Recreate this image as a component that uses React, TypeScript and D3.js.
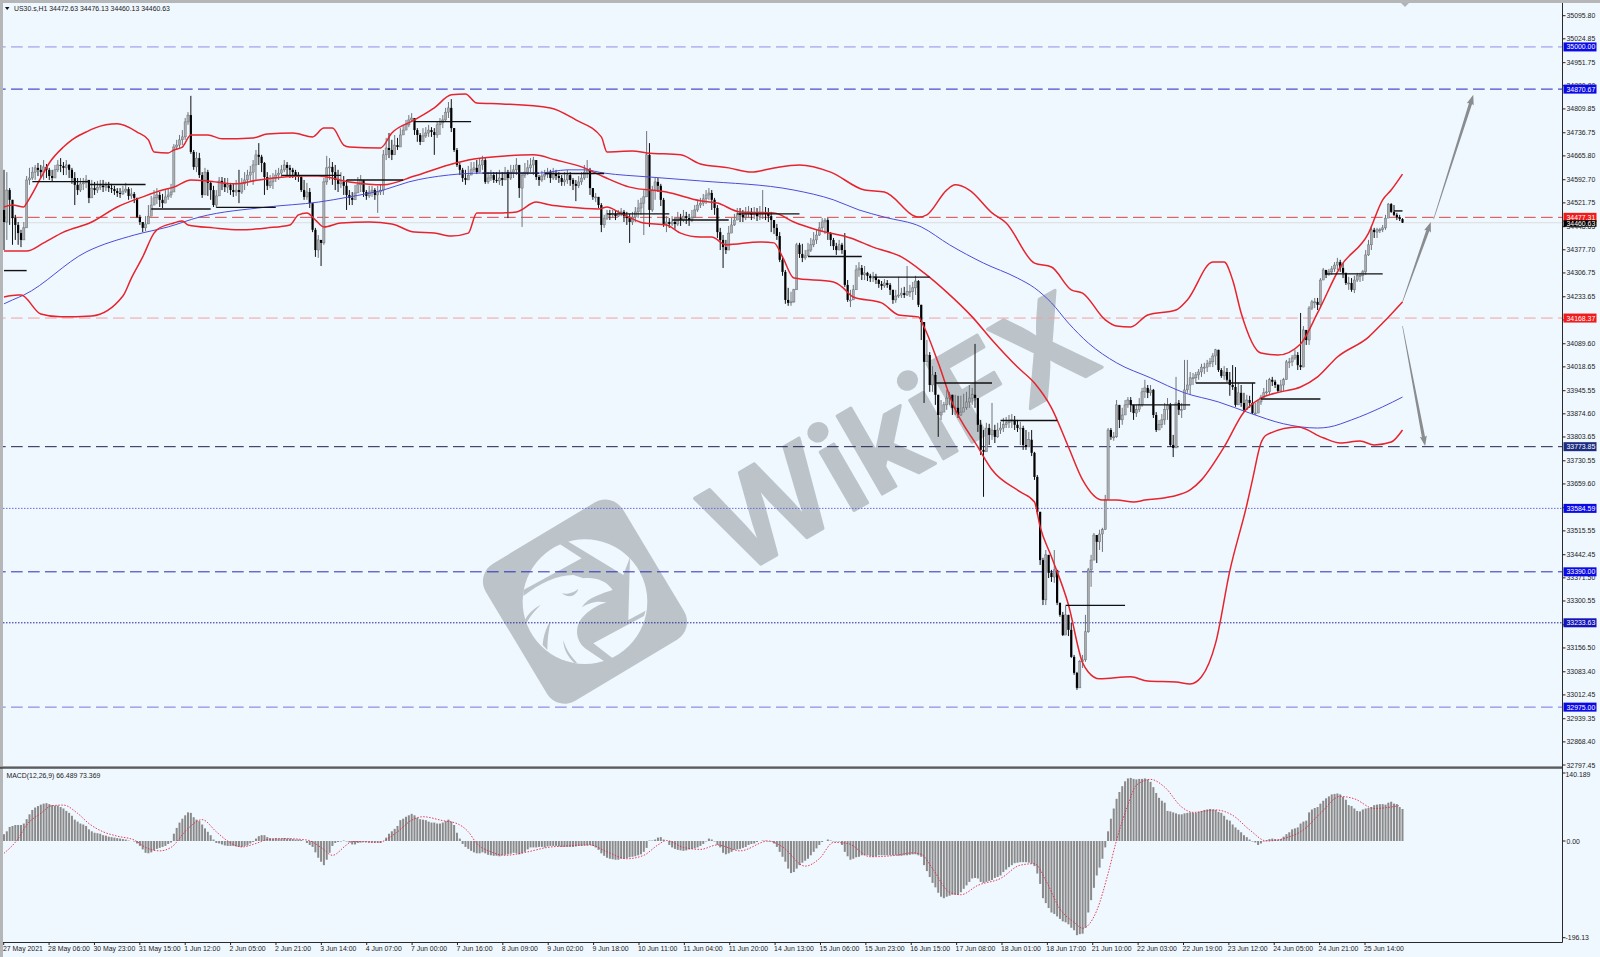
import React from "react";
import * as d3 from "d3";

// ---- candles (H1 bars) ----
const closes = [
34463,34561,34531,34475,34454,34429,34408,34445,34592,34598,34616,34629,34623,34616,34632,34623,
34604,34598,34623,34638,34635,34629,34638,34623,34598,34577,34561,34580,34583,34592,34537,34567,
34561,34570,34574,34570,34574,34567,34564,34558,34552,34549,34558,34564,34543,34549,34537,34478,
34463,34445,34457,34481,34515,34537,34546,34531,34521,34540,34546,34555,34693,34699,34715,34724,
34770,34791,34678,34632,34659,34607,34546,34616,34583,34561,34515,34543,34589,34583,34570,34577,
34561,34555,34561,34555,34580,34592,34607,34616,34638,34669,34663,34644,34601,34574,34586,34598,
34607,34613,34623,34638,34629,34623,34616,34607,34601,34561,34540,34555,34521,34439,34377,34408,
34399,34586,34629,34632,34616,34592,34580,34586,34574,34546,34537,34531,34552,34577,34592,34555,
34543,34555,34561,34546,34555,34561,34669,34690,34684,34669,34699,34693,34730,34745,34761,34776,
34782,34745,34730,34709,34727,34736,34745,34739,34730,34761,34767,34776,34800,34813,34751,34684,
34638,34623,34598,34592,34607,34623,34629,34616,34638,34653,34586,34598,34607,34592,34589,34598,
34592,34616,34598,34616,34623,34638,34567,34607,34616,34629,34638,34653,34601,34592,34604,34610,
34616,34598,34613,34604,34598,34586,34592,34607,34592,34580,34574,34586,34598,34616,34623,34567,
34540,34540,34515,34454,34475,34488,34485,34488,34481,34491,34494,34481,34475,34463,34478,34494,
34506,34521,34540,34669,34500,34561,34586,34574,34531,34457,34463,34457,34463,34457,34475,34469,
34481,34475,34469,34478,34500,34515,34521,34534,34546,34552,34531,34506,34432,34408,34386,34377,
34429,34454,34469,34488,34485,34478,34488,34494,34485,34491,34481,34488,34491,34488,34481,34469,
34445,34420,34347,34310,34224,34215,34218,34255,34393,34365,34353,34359,34377,34393,34408,34423,
34445,34463,34469,34429,34408,34389,34377,34393,34377,34270,34224,34224,34255,34316,34322,34301,
34307,34298,34291,34295,34285,34273,34267,34276,34270,34255,34224,34236,34239,34245,34239,34249,
34249,34261,34282,34209,34156,34034,34055,33963,33994,33933,33871,33880,33902,33923,33933,33893,
33893,33871,33880,33893,33911,33923,33933,33923,33841,33764,33758,33831,33810,33825,33804,33825,
33831,33841,33847,33853,33856,33841,33831,33831,33779,33773,33795,33755,33681,33574,33426,33304,
33442,33387,33374,33396,33295,33258,33196,33258,33212,33129,33080,33034,33114,33120,33206,33396,
33426,33503,33482,33506,33519,33611,33825,33804,33804,33902,33856,33871,33902,33917,33902,33877,
33887,33902,33942,33954,33939,33948,33871,33825,33841,33856,33887,33902,33779,33770,33908,33887,
33887,33948,33963,33985,33985,33994,34003,34018,34018,34028,34034,34052,34071,34009,33991,34003,
33979,33963,33957,33902,33939,33908,33887,33917,33908,33877,33877,33911,33926,33939,33942,33979,
33973,33963,33945,33963,33979,34034,34034,34046,34055,34024,34018,34132,34101,34199,34218,34218,
34209,34285,34316,34301,34310,34319,34331,34340,34322,34307,34276,34276,34255,34285,34298,34298,
34310,34362,34393,34439,34432,34439,34439,34445,34475,34518,34494,34485,34478,34472,34461];

const highs = [
34623,34616,34567,34531,34485,34463,34439,34463,34604,34629,34632,34638,34644,34638,34653,34641,
34629,34623,34638,34653,34659,34647,34653,34641,34629,34616,34598,34598,34598,34607,34592,34592,
34586,34589,34592,34592,34586,34586,34580,34574,34567,34567,34574,34583,34570,34567,34555,34537,
34485,34463,34481,34515,34543,34561,34567,34555,34549,34561,34567,34580,34702,34715,34730,34745,
34782,34800,34850,34684,34678,34675,34616,34629,34623,34586,34574,34561,34601,34601,34598,34598,
34583,34580,34592,34623,34598,34616,34623,34635,34653,34684,34705,34669,34647,34616,34607,34613,
34623,34629,34638,34653,34647,34638,34629,34623,34616,34604,34592,34583,34567,34515,34445,34423,
34408,34598,34666,34659,34647,34638,34623,34616,34604,34592,34561,34555,34577,34601,34607,34586,
34561,34574,34574,34567,34574,34580,34684,34721,34736,34715,34730,34721,34751,34761,34776,34791,
34797,34782,34751,34736,34751,34754,34761,34754,34751,34770,34782,34791,34813,34831,34840,34751,
34690,34644,34629,34623,34635,34647,34647,34653,34659,34666,34659,34616,34623,34616,34616,34623,
34616,34632,34623,34638,34638,34659,34638,34616,34644,34653,34659,34663,34653,34607,34620,34623,
34629,34623,34629,34623,34616,34607,34616,34623,34616,34598,34592,34604,34616,34638,34653,34629,
34567,34552,34540,34521,34485,34500,34500,34500,34497,34500,34506,34500,34494,34488,34494,34509,
34531,34537,34561,34742,34705,34574,34598,34598,34580,34537,34481,34475,34481,34475,34494,34488,
34500,34494,34488,34500,34515,34531,34537,34549,34561,34567,34561,34537,34515,34445,34423,34408,
34451,34475,34488,34506,34506,34500,34509,34512,34506,34509,34506,34512,34561,34509,34506,34494,
34469,34457,34432,34353,34316,34261,34249,34258,34399,34399,34396,34377,34399,34414,34432,34439,
34463,34475,34475,34475,34432,34414,34399,34408,34399,34429,34285,34255,34270,34331,34340,34331,
34328,34310,34304,34310,34304,34288,34282,34288,34285,34276,34255,34255,34295,34261,34264,34328,
34270,34279,34298,34285,34209,34156,34101,34064,34021,34003,33933,33917,33911,33948,33942,33933,
33933,33930,33930,33936,33942,33963,33954,34089,33908,33856,33825,33847,33844,33908,33841,33847,
33850,33862,33865,33871,33874,33868,33856,33850,33838,33825,33819,33825,33758,33687,33574,33433,
33457,33442,33396,33457,33374,33295,33267,33285,33258,33233,33135,33083,33120,33135,33258,33402,
33442,33509,33494,33519,33525,33626,33831,33831,33819,33917,33902,33893,33917,33926,33926,33902,
33902,33923,33954,33979,33963,33963,33951,33880,33856,33874,33908,33923,33908,33810,33988,33917,
33908,34040,34040,34003,34000,34003,34012,34028,34031,34040,34046,34061,34074,34071,34015,34021,
34015,34003,34024,34018,33969,33963,33939,33933,33930,33969,33908,33917,33933,33954,33979,33985,
33988,33979,33966,33979,33985,34040,34046,34055,34071,34064,34184,34144,34113,34205,34224,34230,
34230,34291,34322,34316,34319,34328,34340,34353,34347,34337,34307,34295,34291,34298,34307,34307,
34316,34377,34408,34451,34445,34445,34445,34454,34485,34521,34521,34515,34491,34485,34475];

const lows = [
34377,34408,34454,34393,34408,34393,34386,34408,34445,34577,34592,34592,34604,34598,34592,34598,
34592,34586,34598,34616,34616,34607,34607,34598,34580,34515,34546,34555,34561,34567,34521,34546,
34546,34552,34561,34555,34558,34555,34552,34546,34540,34537,34546,34552,34531,34534,34521,34475,
34454,34432,34435,34457,34494,34515,34518,34509,34506,34527,34531,34537,34555,34684,34690,34699,
34715,34761,34672,34623,34616,34598,34537,34586,34543,34531,34509,34506,34546,34561,34555,34552,
34546,34540,34543,34521,34549,34561,34574,34586,34577,34592,34638,34616,34546,34561,34567,34564,
34586,34592,34598,34616,34607,34598,34598,34592,34586,34555,34531,34531,34506,34432,34356,34353,
34328,34393,34577,34592,34577,34561,34555,34567,34546,34500,34515,34515,34537,34561,34555,34540,
34531,34537,34540,34531,34491,34546,34546,34653,34659,34653,34669,34684,34709,34730,34745,34754,
34770,34730,34709,34699,34715,34721,34724,34724,34669,34721,34730,34751,34770,34782,34739,34678,
34632,34607,34586,34577,34592,34607,34616,34610,34616,34623,34580,34580,34589,34583,34583,34577,
34574,34592,34475,34592,34598,34607,34537,34448,34598,34607,34616,34607,34592,34574,34586,34592,
34598,34583,34592,34592,34583,34574,34574,34580,34574,34561,34527,34567,34577,34592,34598,34546,
34531,34524,34506,34432,34445,34469,34469,34475,34469,34478,34481,34463,34454,34399,34454,34463,
34475,34485,34423,34540,34448,34494,34531,34555,34512,34448,34432,34445,34451,34442,34451,34451,
34463,34457,34451,34463,34475,34494,34506,34512,34518,34531,34500,34485,34414,34377,34322,34365,
34408,34432,34451,34469,34463,34463,34469,34475,34469,34472,34466,34469,34472,34469,34463,34432,
34426,34408,34340,34298,34212,34206,34206,34215,34255,34353,34340,34347,34362,34371,34386,34396,
34420,34432,34426,34408,34389,34377,34362,34377,34365,34264,34218,34202,34230,34264,34295,34285,
34285,34282,34279,34279,34273,34261,34255,34261,34261,34239,34212,34215,34230,34230,34230,34236,
34233,34224,34239,34202,34101,33908,34034,33942,33942,33902,33804,33856,33880,33887,33902,33871,
33871,33862,33868,33880,33887,33893,33902,33893,33819,33748,33620,33764,33779,33795,33785,33801,
33813,33819,33831,33831,33831,33825,33819,33779,33764,33764,33773,33745,33672,33565,33411,33288,
33288,33371,33359,33356,33288,33252,33193,33249,33193,33126,33074,33028,33068,33095,33114,33203,
33344,33426,33417,33457,33451,33519,33611,33795,33792,33801,33831,33841,33880,33893,33880,33856,
33865,33880,33896,33923,33923,33930,33862,33819,33825,33831,33841,33856,33773,33742,33770,33871,
33862,33887,33939,33933,33963,33969,33979,33988,33997,34003,34018,34018,34024,34003,33985,33979,
33973,33930,33948,33896,33902,33896,33880,33896,33893,33874,33871,33887,33902,33923,33933,33933,
33960,33954,33939,33942,33945,33979,34015,34021,34040,34009,34009,34018,34086,34086,34193,34199,
34193,34199,34285,34291,34298,34301,34310,34316,34310,34291,34270,34255,34249,34245,34279,34279,
34282,34301,34359,34377,34414,34414,34429,34432,34439,34488,34491,34481,34469,34466,34460];

// ---- Bollinger bands (bar index, price) ----
const upperBars = [0,3,7,8,13,16,21,24,29,32,40,47,51,53,58,60,63,66,72,77,88,93,102,109,113,116,120,122,133,137,145,152,158,163,167,176,193,202,211,213,222,227,239,246,256,264,272,281,292,304,311,323,326,333,336,341,349,354,364,370,377,381,389,393,398,404,414,418,427,431,434,437,444,450,458,464,472,482,487,490,494];
const upperPrices = [34509,34515,34509,34521,34598,34644,34693,34715,34739,34751,34764,34739,34715,34678,34675,34684,34693,34730,34730,34718,34721,34733,34736,34724,34751,34751,34699,34693,34690,34736,34776,34813,34853,34856,34828,34825,34813,34776,34724,34678,34681,34675,34669,34641,34629,34616,34629,34638,34616,34561,34555,34478,34485,34561,34577,34561,34491,34460,34337,34325,34255,34245,34163,34144,34141,34178,34193,34224,34340,34340,34285,34184,34061,34055,34089,34184,34325,34429,34531,34561,34610];

const middleBars = [0,8,14,21,31,40,49,56,60,66,72,81,90,99,105,111,122,134,145,157,166,178,187,195,205,212,221,234,246,252,260,272,279,287,299,307,317,325,333,342,349,358,364,370,376,381,388,393,399,403,412,419,423,431,438,444,451,458,464,471,482,487,494];
const middlePrices = [34374,34374,34399,34432,34463,34509,34540,34561,34570,34592,34589,34580,34592,34601,34604,34604,34586,34577,34604,34638,34656,34666,34669,34653,34629,34601,34570,34555,34528,34521,34494,34491,34463,34439,34414,34386,34356,34307,34248,34172,34101,34018,33969,33893,33773,33672,33610,33610,33604,33610,33620,33641,33672,33773,33880,33923,33942,33957,33988,34049,34110,34153,34218];

const lowerBars = [0,5,6,13,20,31,42,45,49,53,54,60,63,65,74,83,93,101,104,107,110,113,119,129,137,145,152,158,164,167,176,181,188,193,199,210,213,217,226,234,239,246,250,255,267,272,275,279,293,296,300,310,316,323,325,330,335,344,349,359,364,366,370,376,381,383,387,398,404,414,419,423,428,433,439,441,444,446,457,466,472,479,484,490,494];
const lowerPrices = [34233,34239,34239,34181,34172,34175,34236,34291,34356,34429,34439,34460,34466,34454,34445,34439,34445,34454,34485,34491,34469,34448,34460,34463,34457,34432,34429,34420,34429,34491,34491,34494,34524,34515,34509,34503,34509,34494,34460,34454,34429,34417,34417,34393,34402,34399,34356,34291,34279,34264,34233,34215,34178,34172,34141,34031,33908,33773,33703,33635,33604,33528,33436,33289,33111,33083,33062,33068,33055,33052,33046,33068,33172,33393,33595,33672,33785,33810,33834,33801,33785,33791,33779,33788,33825];

// ---- long moving average ----
const maBars = [0,3,7,29,46,58,69,93,111,122,134,143,157,169,189,199,205,212,228,246,279,293,302,311,324,334,346,358,364,370,376,383,393,405,417,429,440,452,464,468,476,487,494];
const maPrices = [34212,34224,34239,34371,34423,34448,34478,34509,34524,34540,34561,34586,34607,34613,34613,34623,34623,34613,34601,34589,34561,34531,34500,34478,34448,34393,34337,34291,34261,34215,34153,34092,34031,33985,33939,33911,33877,33844,33831,33834,33856,33896,33926];

// ---- flat black pivot segments ----
const pivotStart = [0,10,30,52,75,98,121,145,169,191,213,236,259,284,307,329,352,375,398,421,444,467,491];
const pivotEnd = [8,30,50,73,96,119,141,165,189,212,235,256,281,303,327,349,372,396,419,442,465,487,494];
const pivotPrices = [34314,34587,34578,34503,34508,34606,34592,34771,34613,34612,34488,34469,34488,34357,34294,33969,33854,33287,33902,33969,33920,34304,34497];

// ---- MACD histogram ----
const macd = [
14,20,29,31,33,33,33,36,45,55,64,69,72,75,77,78,76,74,73,73,70,67,62,58,52,44,40,36,34,31,24,20,17,16,15,12,11,9,8,7,6,5,4,3,1,0,-1,-5,-10,-17,-24,-25,-23,-19,-16,-14,-12,-10,-6,-3,15,27,38,46,53,59,58,49,44,41,34,26,19,12,3,-4,-5,-7,-9,-10,-10,-10,-11,-12,-12,-10,-9,-5,-2,5,10,12,12,8,6,5,6,5,5,6,5,5,4,3,3,2,0,-4,-8,-12,-23,-34,-42,-49,-38,-24,-10,-4,-2,-1,1,-1,-3,-7,-7,-4,-3,-2,-2,-3,-3,-3,-3,-4,0,7,15,20,25,31,
43,46,50,53,56,53,48,45,44,43,40,38,38,36,36,38,41,44,40,33,17,5,-6,-12,-16,-20,-23,-25,-25,-23,-25,-28,-29,-30,-30,-31,-29,-28,-27,-26,-24,-25,-27,-25,-22,-17,-13,-13,-13,-12,-12,-13,-11,-10,-10,-10,-11,-12,-12,-12,-12,-12,-11,-10,-10,-9,-9,-8,-10,-13,-18,-25,-30,-34,-36,-37,-38,-38,-36,-36,-35,-33,-32,-31,-29,-27,-22,-14,1,1,3,7,8,3,0,-8,-13,-16,-18,-19,-20,-19,-17,-16,-15,-13,-10,-6,-1,5,3,-1,-8,-13,-24,-27,-25,-22,-18,-17,-16,-14,-12,-8,-6,-5,-2,0,1,1,-1,-1,-5,-12,-22,-32,-42,-56,-65,-63,-56,-49,-44,-40,-36,-29,-22,-15,-8,-2,0,3,1,-1,-1,-1,-8,-22,-31,-38,-36,-33,-32,-29,-29,-29,-31,-32,-31,-29,-29,-29,-29,-29,-29,-29,-30,
-30,-29,-29,-28,-27,-27,-29,-32,-49,-61,-73,-85,-94,-105,-113,-116,-113,-111,-109,-109,-109,-104,-97,-90,-83,-76,-75,-76,-83,-85,-83,-81,-79,-75,-73,-70,-63,-58,-53,-49,-45,-44,-43,-43,-43,-44,-46,-51,-66,-87,-116,-126,-136,-145,-148,-153,-158,-163,-165,-169,-176,-181,-191,-189,-188,-176,-145,-120,-95,-70,-54,-36,-13,20,46,67,87,101,113,123,129,130,128,127,128,128,129,127,122,111,99,89,83,79,62,61,59,57,55,55,57,58,59,58,58,60,62,64,65,66,65,64,60,58,52,44,42,34,28,23,18,12,8,3,-1,-3,-8,-5,-1,2,4,5,4,3,4,9,14,18,24,26,28,36,40,42,59,65,68,70,77,83,88,92,96,97,98,96,91,85,74,72,67,62,61,65,67,68,70,74,75,76,76,75,79,81,77,76,70,66];

// ---- MACD signal ----
const signalBars = [0,5,8,13,17,21,26,30,35,40,46,50,55,59,65,70,75,79,84,89,93,99,107,112,116,121,123,132,139,144,148,155,160,164,167,172,177,185,192,199,207,213,220,226,231,234,240,246,252,260,270,275,283,288,293,298,306,315,321,324,328,334,338,344,352,359,364,368,373,378,381,386,390,393,397,400,405,410,416,420,428,434,440,446,452,459,465,472,477,484,493];
const signalValues = [-25,5,33,57,73,74,57,36,19,10,2,-13,-20,-13,26,44,19,0,-12,-5,3,5,2,-13,-29,-8,-1,-3,19,43,50,42,36,19,-5,-22,-29,-22,-13,-10,-8,-22,-36,-29,-8,1,-13,-17,-8,-20,0,-12,-51,-36,-3,-5,-32,-29,-24,-27,-56,-104,-109,-90,-76,-49,-46,-80,-138,-165,-177,-141,-66,2,74,115,127,111,70,59,64,53,23,0,5,23,57,92,87,67,73];

// ---- axis labels ----
const priceTicks = ["35095.80","35024.85","34951.75","34880.80","34809.85","34736.75","34665.80","34592.70","34521.75","34448.65","34377.70","34306.75","34233.65","34162.70","34089.60","34018.65","33945.55","33874.60","33803.65","33730.55","33659.60","33586.50","33515.55","33442.45","33371.50","33300.55","33227.45","33156.50","33083.40","33012.45","32939.35","32868.40","32797.45"];
const timeTicks = ["27 May 2021","28 May 06:00","30 May 23:00","31 May 15:00","1 Jun 12:00","2 Jun 05:00","2 Jun 21:00","3 Jun 14:00","4 Jun 07:00","7 Jun 00:00","7 Jun 16:00","8 Jun 09:00","9 Jun 02:00","9 Jun 18:00","10 Jun 11:00","11 Jun 04:00","11 Jun 20:00","14 Jun 13:00","15 Jun 06:00","15 Jun 23:00","16 Jun 15:00","17 Jun 08:00","18 Jun 01:00","18 Jun 17:00","21 Jun 10:00","22 Jun 03:00","22 Jun 19:00","23 Jun 12:00","24 Jun 05:00","24 Jun 21:00","25 Jun 14:00"];
const macdTicks = [140.189, 0, -196.13];

// ---- horizontal levels ----
const levelPrices = [35000, 34870.67, 34477.31, 34168.37, 33773.85, 33584.59, 33390, 33233.63, 32975];
const levelColors = ["#8e8ee8", "#2222c0", "#dd4444", "#f0a0a0", "#23234f", "#6a6ad8", "#2a2ab8", "#22229a", "#7474e0"];
const levelDash = ["11.7 5.3", "11.7 5.3", "11.7 5.3", "11.7 5.3", "11.7 5.3", "1.5 1.5", "11.7 5.3", "1.5 1.5", "11.7 5.3"];
const levelBox = ["#0a0ae6", "#0a0ae6", "#f01c1c", "#f01c1c", "#1c2c80", "#0a0ae6", "#0a0ae6", "#1414b8", "#0a0ae6"];

// ---- hand-drawn arrows (bar index, price) ----
const arrowFrom = [[494, 34218], [505, 34472], [494, 34144]];
const arrowTo = [[504, 34463], [519, 34853], [502, 33776]];

const W = 1600;
const H = 957;
const BG = "#f0f8ff";
const AXIS_X = 1562.5;
const FONT = "'Liberation Sans', Arial, sans-serif";

const x = d3.scaleLinear().domain([0, 494]).range([4, 1402.5]);
const y = d3.scaleLinear().domain([32797.45, 35095.8]).range([765, 15.7]);
const ym = d3.scaleLinear().domain([-196.13, 0, 140.189]).range([937.7, 841, 773]);
const tx = d3.scaleLinear().domain([0, 30]).range([3.7, 1365]);

const line = (bars: number[], vals: number[], sy: (v: number) => number) =>
  d3.line<number>().x((b) => x(b)).y((_, i) => sy(vals[i])).curve(d3.curveMonotoneX)(bars) || "";

function Arrow({ from, to }: { from: number[]; to: number[] }) {
  const x0 = x(from[0]), y0 = y(from[1]), x1 = x(to[0]), y1 = y(to[1]);
  const len = Math.hypot(x1 - x0, y1 - y0);
  const ux = (x1 - x0) / len, uy = (y1 - y0) / len, nx = -uy, ny = ux;
  const bx = x1 - ux * 9, by = y1 - uy * 9;
  const pts = [
    [x0 + nx * 0.3, y0 + ny * 0.3], [bx + nx * 1.6, by + ny * 1.6], [bx + nx * 3.6 - ux, by + ny * 3.6 - uy],
    [x1, y1], [bx - nx * 3.6 - ux, by - ny * 3.6 - uy], [bx - nx * 1.6, by - ny * 1.6], [x0 - nx * 0.3, y0 - ny * 0.3],
  ];
  return <polygon points={pts.map((p) => p.join(",")).join(" ")} fill="#8a8d90" />;
}

function Watermark() {
  const c = "#bcc4ca";
  return (
    <g>
      <g transform="translate(460,480) scale(0.3333)">
        <rect x={375 - 240} y={365 - 240} width={480} height={480} rx={62} fill={c} transform="rotate(-31 375 365)" />
        <circle cx={375} cy={365} r={187} fill={BG} />
        <path fill={c} d="M300,193 L322,183 L490,285 L510,232 L505,420 L557,392 L552,408 L400,490 L458,535 L436,546 L375,505 C345,480 345,440 365,415 C385,390 420,370 440,368 C410,360 385,370 365,382 C385,350 430,340 458,330 C440,300 400,290 370,295 L340,285 C290,285 240,310 190,348 L190,330 L365,235 Z" />
        <path fill={c} d="M305,340 C325,345 345,335 355,327 C350,345 330,358 305,340Z" />
        <path fill={c} d="M195,420 C205,400 222,385 242,375 C225,392 210,408 200,428Z" />
        <path fill={c} d="M248,495 C250,470 258,440 272,425 C266,450 262,478 262,510Z" />
        <path fill={c} d="M342,548 C322,528 310,505 310,480 C318,510 335,530 352,550Z" />
      </g>
      <text
        transform="translate(737,578) rotate(-30)"
        fontFamily="Inter, 'Noto Sans', sans-serif"
        fontWeight={600}
        fontSize={124}
        fill={c}
        stroke={c}
        strokeWidth={3}
        strokeLinejoin="round"
        textLength={425}
        lengthAdjust="spacingAndGlyphs"
      >
        WikiFX
      </text>
    </g>
  );
}

export default function App() {
  return (
    <svg width={W} height={H} viewBox={`0 0 ${W} ${H}`} style={{ position: "absolute", left: 0, top: 0, display: "block" }}>
      <rect width={W} height={H} fill={BG} />
      <Watermark />

      {/* levels */}
      <line x1={3} x2={AXIS_X} y1={y(34460.63)} y2={y(34460.63)} stroke="#d9dcdf" strokeWidth={1} />
      {levelPrices.map((p, i) => (
        <line key={p} x1={3} x2={AXIS_X} y1={y(p)} y2={y(p)} stroke={levelColors[i]} strokeWidth={1} strokeDasharray={levelDash[i]} strokeDashoffset={9} />
      ))}

      {/* candles */}
      {closes.map((c, i) => {
        const o = i === 0 ? 34500 : closes[i - 1];
        const up = c >= o;
        const cx = x(i);
        const top = y(Math.max(o, c));
        const h = Math.max(1, y(Math.min(o, c)) - top);
        return (
          <g key={i}>
            <line x1={cx} x2={cx} y1={y(highs[i])} y2={y(lows[i])} stroke={up ? "#6f7478" : "#111"} strokeWidth={1} />
            <rect x={cx - 1.1} y={top} width={2.2} height={h} fill={up ? "#a9adb1" : "#000"} stroke={up ? "#5a5e62" : "none"} strokeWidth={0.4} />
          </g>
        );
      })}

      {/* indicators */}
      <path d={line(maBars, maPrices, y)} fill="none" stroke="#4c4cd8" strokeWidth={1} />
      <path d={line(upperBars, upperPrices, y)} fill="none" stroke="#e7232c" strokeWidth={1.5} />
      <path d={line(middleBars, middlePrices, y)} fill="none" stroke="#e7232c" strokeWidth={1.5} />
      <path d={line(lowerBars, lowerPrices, y)} fill="none" stroke="#e7232c" strokeWidth={1.5} />

      {/* pivots */}
      {pivotPrices.map((p, i) => (
        <line key={i} x1={x(pivotStart[i])} x2={x(pivotEnd[i])} y1={y(p)} y2={y(p)} stroke="#111" strokeWidth={1.4} />
      ))}

      {/* arrows */}
      {arrowFrom.map((f, i) => <Arrow key={i} from={f} to={arrowTo[i]} />)}
      <polygon points="1401,3 1409,3 1405,7" fill="#b0b4b8" />

      {/* macd */}
      {macd.map((v, i) => (
        <rect key={i} x={x(i) - 1} width={2} y={Math.min(ym(v), ym(0))} height={Math.abs(ym(v) - ym(0))} fill="#8a8a8a" />
      ))}
      <path d={line(signalBars, signalValues, ym)} fill="none" stroke="#e02848" strokeWidth={0.9} strokeDasharray="1.5 1.5" />

      {/* frame */}
      <rect x={0} y={0} width={3} height={H} fill="#b4b6b8" />
      <rect x={0} y={0} width={W} height={3} fill="#b4b6b8" />
      <rect x={0} y={766} width={AXIS_X} height={1.4} fill="#9a9c9e" />
      <rect x={0} y={767.3} width={AXIS_X} height={1.3} fill="#2a2a2a" />
      <line x1={AXIS_X} x2={AXIS_X} y1={3} y2={942.5} stroke="#2a2a2a" strokeWidth={1} />
      <line x1={3} x2={AXIS_X} y1={942.5} y2={942.5} stroke="#2a2a2a" strokeWidth={1} />

      {/* header */}
      <polygon points="5,7 9.5,7 7.2,10" fill="#111" />
      <text x={14} y={11} fontFamily={FONT} fontSize={6.9} fill="#222">US30.s,H1  34472.63 34476.13 34460.13 34460.63</text>
      <text x={6.5} y={777.5} fontFamily={FONT} fontSize={6.9} fill="#222">MACD(12,26,9) 66.489 73.369</text>

      {/* price axis */}
      {priceTicks.map((t) => (
        <g key={t}>
          <line x1={AXIS_X} x2={AXIS_X + 3} y1={y(+t)} y2={y(+t)} stroke="#222" />
          <text x={1566.5} y={y(+t) + 2.5} fontFamily={FONT} fontSize={6.9} fill="#222">{t}</text>
        </g>
      ))}
      {macdTicks.map((t, i) => (
        <g key={t}>
          <line x1={AXIS_X} x2={AXIS_X + 3} y1={ym(t)} y2={ym(t)} stroke="#222" />
          <text x={i === 1 ? 1566.5 : 1565.5} y={ym(t) + 2.5 + (i === 0 ? 1 : 0)} fontFamily={FONT} fontSize={6.9} fill="#222">
            {i === 1 ? "0.00" : String(t)}
          </text>
        </g>
      ))}

      {/* level boxes */}
      {levelPrices.map((p, i) => (
        <g key={p}>
          <rect x={1563.5} y={y(p) - 4.5} width={33} height={9} fill={levelBox[i]} />
          <text x={1566.5} y={y(p) + 2.5} fontFamily={FONT} fontSize={6.9} fill="#fff">{p.toFixed(2)}</text>
        </g>
      ))}
      <rect x={1563.5} y={y(34460.63) - 2.5} width={33} height={6.5} fill="#000" />
      <text x={1566.5} y={y(34460.63) + 2.8} fontFamily={FONT} fontSize={6.9} fill="#fff">34460.63</text>

      {/* time axis */}
      {timeTicks.map((t, i) => (
        <g key={t}>
          <line x1={tx(i)} x2={tx(i)} y1={942.5} y2={945} stroke="#222" />
          <text x={i === 0 ? 3 : tx(i) - 1} y={950.5} fontFamily={FONT} fontSize={6.9} fill="#222">{t}</text>
        </g>
      ))}
    </svg>
  );
}
